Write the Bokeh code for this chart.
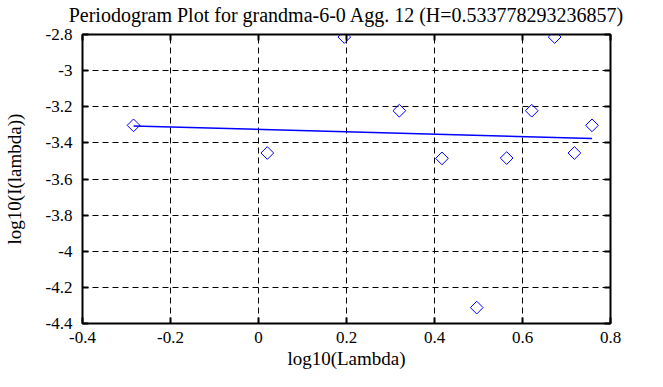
from bokeh.plotting import figure
from bokeh.models import FixedTicker, LinearAxis, Range1d, CustomLabelingPolicy
from bokeh.embed import file_html
from bokeh.resources import INLINE
import math

# Data
log_lambda = [-0.284, 0.020, 0.195, 0.320, 0.417, 0.496, 0.564, 0.621, 0.673, 0.718, 0.758]
log_I = [-3.303, -3.456, -2.814, -3.222, -3.486, -4.312, -3.484, -3.222, -2.814, -3.456, -3.303]
fit_x = [-0.284, 0.758]
fit_y = [-3.306, -3.376]

x_ticks = [-0.4, -0.2, 0.0, 0.2, 0.4, 0.6, 0.8]
x_tick_labels = ["-0.4", "-0.2", "0", "0.2", "0.4", "0.6", "0.8"]
y_ticks = [-4.4, -4.2, -4.0, -3.8, -3.6, -3.4, -3.2, -3.0, -2.8]
y_tick_labels = ["-4.4", "-4.2", "-4", "-3.8", "-3.6", "-3.4", "-3.2", "-3", "-2.8"]

title_text = "Periodogram Plot for grandma-6-0 Agg. 12 (H=0.533778293236857)"
FONT = "Liberation Serif"

p = figure(width=647, height=371, output_backend="svg", toolbar_location=None,
           x_range=Range1d(-0.4, 0.8), y_range=Range1d(-4.4, -2.8),
           title=title_text, min_border_left=82, min_border_right=37,
           min_border_top=31, min_border_bottom=46)

p.title.text_font = FONT
p.title.text_font_size = "20px"
p.title.text_font_style = "normal"
p.title.text_color = "black"
p.title.align = "center"
p.title.vertical_align = "top"
p.title.text_line_height = 0.8
p.title.offset = 0
p.title.standoff = 6

p.outline_line_color = "black"
p.outline_line_width = 2
p.outline_line_alpha = 1.0
p.background_fill_color = "white"
p.border_fill_color = "white"

for ax in (p.xaxis[0], p.yaxis[0]):
    ax.axis_line_color = None
    ax.major_tick_in = 6
    ax.major_tick_out = 0
    ax.major_tick_line_color = "black"
    ax.major_tick_line_width = 2
    ax.minor_tick_line_color = None
    ax.major_label_text_font = FONT
    ax.major_label_text_font_size = "17px"
    ax.major_label_text_color = "black"
    ax.axis_label_text_font = FONT
    ax.axis_label_text_font_size = "19px"
    ax.axis_label_text_font_style = "normal"
    ax.axis_label_text_color = "black"

p.xaxis[0].ticker = FixedTicker(ticks=x_ticks)
p.xaxis[0].major_label_overrides = dict(zip(x_ticks, x_tick_labels))
p.xaxis[0].major_label_standoff = 8
p.xaxis[0].axis_label = "log10(Lambda)"
p.xaxis[0].axis_label_standoff = 2

p.yaxis[0].ticker = FixedTicker(ticks=y_ticks)
p.yaxis[0].major_label_overrides = dict(zip(y_ticks, y_tick_labels))
p.yaxis[0].major_label_standoff = 10
p.yaxis[0].axis_label = "log10(I(lambda))"
p.yaxis[0].axis_label_standoff = 18

no_labels = CustomLabelingPolicy(code="return new Set()")
top_axis = LinearAxis(ticker=FixedTicker(ticks=x_ticks), axis_line_color=None,
                      major_tick_in=6, major_tick_out=0, major_tick_line_width=2,
                      minor_tick_line_color=None, major_label_policy=no_labels,
                      major_label_text_font_size="1px", major_label_standoff=0)
right_axis = LinearAxis(ticker=FixedTicker(ticks=y_ticks), axis_line_color=None,
                        major_tick_in=6, major_tick_out=0, major_tick_line_width=2,
                        minor_tick_line_color=None, major_label_policy=no_labels,
                        major_label_text_font_size="1px", major_label_standoff=0)
p.add_layout(top_axis, "above")
p.add_layout(right_axis, "right")

p.xgrid.ticker = FixedTicker(ticks=x_ticks)
p.ygrid.ticker = FixedTicker(ticks=y_ticks)
for g in (p.xgrid[0], p.ygrid[0]):
    g.grid_line_color = "black"
    g.grid_line_dash = "6 4"
    g.grid_line_width = 1
    g.grid_line_alpha = 1.0

p.line(fit_x, fit_y, line_color="#0000ff", line_width=1.5)
p.scatter(log_lambda, log_I, marker="square", angle=math.pi / 4, size=9,
          fill_color=None, line_color="#0000ff", line_width=1)

open("out.html", "w").write(file_html(p, INLINE))
